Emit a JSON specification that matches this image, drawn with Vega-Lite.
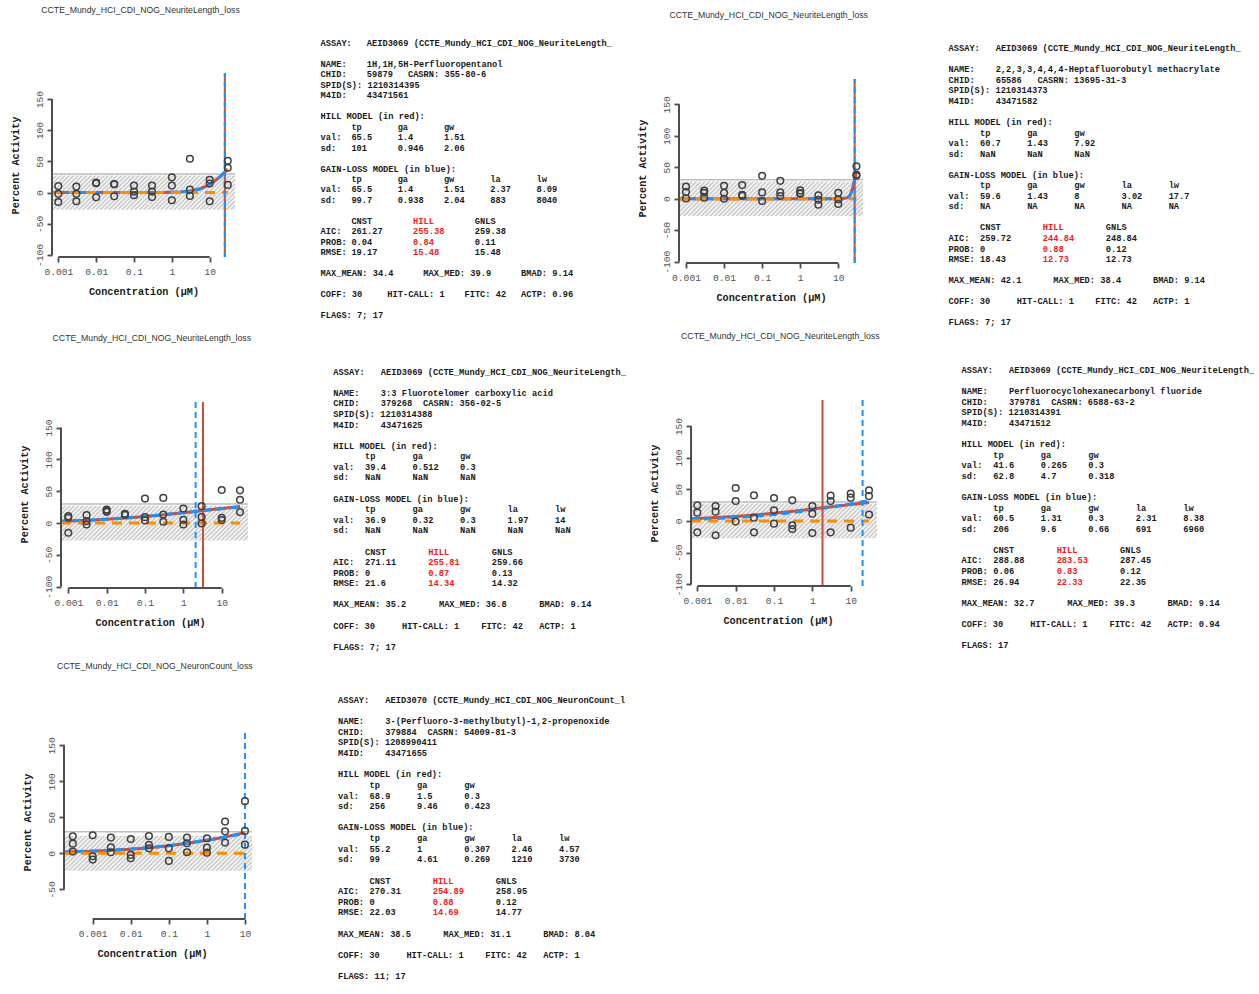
{
  "$schema": "https://vega.github.io/schema/vega-lite/v6.json",
  "background": "white",
  "padding": {"left": 10, "top": 5, "right": 0, "bottom": 0},
  "columns": 2,
  "align": "each",
  "bounds": "flush",
  "spacing": {"row": 137, "column": 427},
  "config": {
    "view": {"stroke": null},
    "title": {"font": "Liberation Sans", "fontSize": 8.7, "fontWeight": "normal", "color": "#333333", "anchor": "middle", "baseline": "bottom", "frame": "group"},
    "axis": {"domain": false, "grid": false, "tickSize": 5, "tickWidth": 1.8, "tickColor": "#4d4d4d", "labelFont": "Liberation Mono", "labelFontSize": 9.6, "labelColor": "#555555", "titleFont": "Liberation Mono", "titleFontSize": 10.2, "titleFontWeight": "bold", "titleColor": "#1a1a1a", "labelOverlap": false, "labelFlush": false},
    "axisX": {"labelPadding": 4, "titlePadding": 11},
    "axisY": {"labelAngle": 270, "labelAlign": "center", "labelBaseline": "bottom", "labelPadding": 3, "titlePadding": 14},
    "text": {"font": "Liberation Mono", "fontSize": 8.7, "fontWeight": "bold", "align": "left", "baseline": "middle"},
    "point": {"shape": "circle", "filled": false, "size": 44, "strokeWidth": 1.5, "color": "#404040", "opacity": 1}
  },
  "datasets": {
    "A_pts": [
      {"conc": 0.001, "resp": 10.6}, {"conc": 0.001, "resp": -2}, {"conc": 0.001, "resp": -15},
      {"conc": 0.003, "resp": 9.6}, {"conc": 0.003, "resp": -2}, {"conc": 0.003, "resp": -13.8},
      {"conc": 0.01, "resp": 16}, {"conc": 0.01, "resp": 15}, {"conc": 0.01, "resp": -7.4},
      {"conc": 0.03, "resp": 13.8}, {"conc": 0.03, "resp": 13.2}, {"conc": 0.03, "resp": -5.9},
      {"conc": 0.1, "resp": 11.2}, {"conc": 0.1, "resp": 1.6}, {"conc": 0.1, "resp": -4.3},
      {"conc": 0.3, "resp": 11.2}, {"conc": 0.3, "resp": 1.6}, {"conc": 0.3, "resp": -6.9},
      {"conc": 1, "resp": 24.5}, {"conc": 1, "resp": 11.2}, {"conc": 1, "resp": -12.2},
      {"conc": 3, "resp": 54.3}, {"conc": 3, "resp": 4.8}, {"conc": 3, "resp": -5.3},
      {"conc": 10, "resp": 20.7}, {"conc": 10, "resp": 14.4}, {"conc": 10, "resp": -13.8},
      {"conc": 30, "resp": 51}, {"conc": 30, "resp": 39.9}, {"conc": 30, "resp": 12.3}
    ],
    "A_fit": [
      {"model": "hill", "conc": 0.000682, "resp": 0}, {"model": "hill", "conc": 0.1, "resp": 0.02}, {"model": "hill", "conc": 0.3162, "resp": 0.09}, {"model": "hill", "conc": 1, "resp": 0.5}, {"model": "hill", "conc": 1.778, "resp": 1.18}, {"model": "hill", "conc": 3.162, "resp": 2.75}, {"model": "hill", "conc": 5.623, "resp": 6.19}, {"model": "hill", "conc": 10, "resp": 13.05}, {"model": "hill", "conc": 13.34, "resp": 18.19}, {"model": "hill", "conc": 17.78, "resp": 24.4}, {"model": "hill", "conc": 23.71, "resp": 31.33}, {"model": "hill", "conc": 30, "resp": 37.1},
      {"model": "gnls", "conc": 0.000682, "resp": 0}, {"model": "gnls", "conc": 0.1, "resp": 0.02}, {"model": "gnls", "conc": 0.3162, "resp": 0.09}, {"model": "gnls", "conc": 1, "resp": 0.5}, {"model": "gnls", "conc": 1.778, "resp": 1.18}, {"model": "gnls", "conc": 3.162, "resp": 2.75}, {"model": "gnls", "conc": 5.623, "resp": 6.19}, {"model": "gnls", "conc": 10, "resp": 13.05}, {"model": "gnls", "conc": 13.34, "resp": 18.19}, {"model": "gnls", "conc": 17.78, "resp": 24.4}, {"model": "gnls", "conc": 23.71, "resp": 31.33}, {"model": "gnls", "conc": 30, "resp": 37.1},
      {"model": "cnst", "conc": 0.000682, "resp": 0}, {"model": "cnst", "conc": 30, "resp": 0}
    ],
    "A_ac50": [{"model": "hill", "conc": 25.12}, {"model": "gnls", "conc": 25.12}],
    "A_lim": [{"lo": -27.42, "hi": 27.42, "coff": 30}],
    "A_txt": [
      {"line": 0, "col": 0, "text": "ASSAY:"}, {"line": 0, "col": 9, "text": "AEID3069 (CCTE_Mundy_HCI_CDI_NOG_NeuriteLength_"},
      {"line": 2, "col": 0, "text": "NAME:"}, {"line": 2, "col": 9, "text": "1H,1H,5H-Perfluoropentanol"},
      {"line": 3, "col": 0, "text": "CHID:"}, {"line": 3, "col": 9, "text": "59879"}, {"line": 3, "col": 17, "text": "CASRN: 355-80-6"},
      {"line": 4, "col": 0, "text": "SPID(S): 1210314395"},
      {"line": 5, "col": 0, "text": "M4ID:"}, {"line": 5, "col": 9, "text": "43471561"},
      {"line": 7, "col": 0, "text": "HILL MODEL (in red):"},
      {"line": 8, "col": 6, "text": "tp"}, {"line": 8, "col": 15, "text": "ga"}, {"line": 8, "col": 24, "text": "gw"},
      {"line": 9, "col": 0, "text": "val:"}, {"line": 9, "col": 6, "text": "65.5"}, {"line": 9, "col": 15, "text": "1.4"}, {"line": 9, "col": 24, "text": "1.51"},
      {"line": 10, "col": 0, "text": "sd:"}, {"line": 10, "col": 6, "text": "101"}, {"line": 10, "col": 15, "text": "0.946"}, {"line": 10, "col": 24, "text": "2.06"},
      {"line": 12, "col": 0, "text": "GAIN-LOSS MODEL (in blue):"},
      {"line": 13, "col": 6, "text": "tp"}, {"line": 13, "col": 15, "text": "ga"}, {"line": 13, "col": 24, "text": "gw"}, {"line": 13, "col": 33, "text": "la"}, {"line": 13, "col": 42, "text": "lw"},
      {"line": 14, "col": 0, "text": "val:"}, {"line": 14, "col": 6, "text": "65.5"}, {"line": 14, "col": 15, "text": "1.4"}, {"line": 14, "col": 24, "text": "1.51"}, {"line": 14, "col": 33, "text": "2.37"}, {"line": 14, "col": 42, "text": "8.09"},
      {"line": 15, "col": 0, "text": "sd:"}, {"line": 15, "col": 6, "text": "99.7"}, {"line": 15, "col": 15, "text": "0.938"}, {"line": 15, "col": 24, "text": "2.04"}, {"line": 15, "col": 33, "text": "883"}, {"line": 15, "col": 42, "text": "8040"},
      {"line": 17, "col": 6, "text": "CNST"}, {"line": 17, "col": 18, "text": "HILL", "hill": true}, {"line": 17, "col": 30, "text": "GNLS"},
      {"line": 18, "col": 0, "text": "AIC:"}, {"line": 18, "col": 6, "text": "261.27"}, {"line": 18, "col": 18, "text": "255.38", "hill": true}, {"line": 18, "col": 30, "text": "259.38"},
      {"line": 19, "col": 0, "text": "PROB:"}, {"line": 19, "col": 6, "text": "0.04"}, {"line": 19, "col": 18, "text": "0.84", "hill": true}, {"line": 19, "col": 30, "text": "0.11"},
      {"line": 20, "col": 0, "text": "RMSE:"}, {"line": 20, "col": 6, "text": "19.17"}, {"line": 20, "col": 18, "text": "15.48", "hill": true}, {"line": 20, "col": 30, "text": "15.48"},
      {"line": 22, "col": 0, "text": "MAX_MEAN: 34.4"}, {"line": 22, "col": 20, "text": "MAX_MED: 39.9"}, {"line": 22, "col": 39, "text": "BMAD: 9.14"},
      {"line": 24, "col": 0, "text": "COFF: 30"}, {"line": 24, "col": 13, "text": "HIT-CALL: 1"}, {"line": 24, "col": 28, "text": "FITC: 42"}, {"line": 24, "col": 39, "text": "ACTP: 0.96"},
      {"line": 26, "col": 0, "text": "FLAGS: 7; 17"}
    ],
    "B_pts": [
      {"conc": 0.001, "resp": 19.5}, {"conc": 0.001, "resp": 10.5}, {"conc": 0.001, "resp": 0.5},
      {"conc": 0.003, "resp": 13}, {"conc": 0.003, "resp": 9.5}, {"conc": 0.003, "resp": 1.6},
      {"conc": 0.01, "resp": 20.5}, {"conc": 0.01, "resp": 9.5}, {"conc": 0.01, "resp": 0},
      {"conc": 0.03, "resp": 21.6}, {"conc": 0.03, "resp": 6.3}, {"conc": 0.03, "resp": 4.7},
      {"conc": 0.1, "resp": 36.3}, {"conc": 0.1, "resp": 10}, {"conc": 0.1, "resp": -3.7},
      {"conc": 0.3, "resp": 28.4}, {"conc": 0.3, "resp": 10}, {"conc": 0.3, "resp": 4.2},
      {"conc": 1, "resp": 13.2}, {"conc": 1, "resp": 9}, {"conc": 1, "resp": 8},
      {"conc": 3, "resp": 5.3}, {"conc": 3, "resp": -1.6}, {"conc": 3, "resp": -9.5},
      {"conc": 10, "resp": 9.5}, {"conc": 10, "resp": -1}, {"conc": 10, "resp": -8.4},
      {"conc": 30, "resp": 51.5}, {"conc": 30, "resp": 38.4}, {"conc": 30, "resp": 36.4}
    ],
    "B_fit": [
      {"model": "hill", "conc": 0.000655, "resp": 0}, {"model": "hill", "conc": 10, "resp": 0.02}, {"model": "hill", "conc": 12.59, "resp": 0.15}, {"model": "hill", "conc": 15.85, "resp": 0.9}, {"model": "hill", "conc": 17.78, "resp": 2.2}, {"model": "hill", "conc": 19.95, "resp": 5.19}, {"model": "hill", "conc": 22.39, "resp": 11.45}, {"model": "hill", "conc": 25.12, "resp": 22.25}, {"model": "hill", "conc": 26.92, "resp": 30.35}, {"model": "hill", "conc": 28.18, "resp": 35.8}, {"model": "hill", "conc": 30, "resp": 42.6},
      {"model": "gnls", "conc": 0.000655, "resp": 0}, {"model": "gnls", "conc": 10, "resp": 0.02}, {"model": "gnls", "conc": 12.59, "resp": 0.14}, {"model": "gnls", "conc": 15.85, "resp": 0.85}, {"model": "gnls", "conc": 17.78, "resp": 2.09}, {"model": "gnls", "conc": 19.95, "resp": 4.98}, {"model": "gnls", "conc": 22.39, "resp": 11.1}, {"model": "gnls", "conc": 25.12, "resp": 21.77}, {"model": "gnls", "conc": 26.92, "resp": 29.8}, {"model": "gnls", "conc": 28.18, "resp": 35.2}, {"model": "gnls", "conc": 30, "resp": 41.9},
      {"model": "cnst", "conc": 0.000655, "resp": 0}, {"model": "cnst", "conc": 30, "resp": 0}
    ],
    "B_ac50": [{"model": "hill", "conc": 26.92}, {"model": "gnls", "conc": 26.92}],
    "B_lim": [{"lo": -27.42, "hi": 27.42, "coff": 30}],
    "B_txt": [
      {"line": 0, "col": 0, "text": "ASSAY:"}, {"line": 0, "col": 9, "text": "AEID3069 (CCTE_Mundy_HCI_CDI_NOG_NeuriteLength_"},
      {"line": 2, "col": 0, "text": "NAME:"}, {"line": 2, "col": 9, "text": "2,2,3,3,4,4,4-Heptafluorobutyl methacrylate"},
      {"line": 3, "col": 0, "text": "CHID:"}, {"line": 3, "col": 9, "text": "65586"}, {"line": 3, "col": 17, "text": "CASRN: 13695-31-3"},
      {"line": 4, "col": 0, "text": "SPID(S): 1210314373"},
      {"line": 5, "col": 0, "text": "M4ID:"}, {"line": 5, "col": 9, "text": "43471582"},
      {"line": 7, "col": 0, "text": "HILL MODEL (in red):"},
      {"line": 8, "col": 6, "text": "tp"}, {"line": 8, "col": 15, "text": "ga"}, {"line": 8, "col": 24, "text": "gw"},
      {"line": 9, "col": 0, "text": "val:"}, {"line": 9, "col": 6, "text": "60.7"}, {"line": 9, "col": 15, "text": "1.43"}, {"line": 9, "col": 24, "text": "7.92"},
      {"line": 10, "col": 0, "text": "sd:"}, {"line": 10, "col": 6, "text": "NaN"}, {"line": 10, "col": 15, "text": "NaN"}, {"line": 10, "col": 24, "text": "NaN"},
      {"line": 12, "col": 0, "text": "GAIN-LOSS MODEL (in blue):"},
      {"line": 13, "col": 6, "text": "tp"}, {"line": 13, "col": 15, "text": "ga"}, {"line": 13, "col": 24, "text": "gw"}, {"line": 13, "col": 33, "text": "la"}, {"line": 13, "col": 42, "text": "lw"},
      {"line": 14, "col": 0, "text": "val:"}, {"line": 14, "col": 6, "text": "59.6"}, {"line": 14, "col": 15, "text": "1.43"}, {"line": 14, "col": 24, "text": "8"}, {"line": 14, "col": 33, "text": "3.02"}, {"line": 14, "col": 42, "text": "17.7"},
      {"line": 15, "col": 0, "text": "sd:"}, {"line": 15, "col": 6, "text": "NA"}, {"line": 15, "col": 15, "text": "NA"}, {"line": 15, "col": 24, "text": "NA"}, {"line": 15, "col": 33, "text": "NA"}, {"line": 15, "col": 42, "text": "NA"},
      {"line": 17, "col": 6, "text": "CNST"}, {"line": 17, "col": 18, "text": "HILL", "hill": true}, {"line": 17, "col": 30, "text": "GNLS"},
      {"line": 18, "col": 0, "text": "AIC:"}, {"line": 18, "col": 6, "text": "259.72"}, {"line": 18, "col": 18, "text": "244.84", "hill": true}, {"line": 18, "col": 30, "text": "248.84"},
      {"line": 19, "col": 0, "text": "PROB:"}, {"line": 19, "col": 6, "text": "0"}, {"line": 19, "col": 18, "text": "0.88", "hill": true}, {"line": 19, "col": 30, "text": "0.12"},
      {"line": 20, "col": 0, "text": "RMSE:"}, {"line": 20, "col": 6, "text": "18.43"}, {"line": 20, "col": 18, "text": "12.73", "hill": true}, {"line": 20, "col": 30, "text": "12.73"},
      {"line": 22, "col": 0, "text": "MAX_MEAN: 42.1"}, {"line": 22, "col": 20, "text": "MAX_MED: 38.4"}, {"line": 22, "col": 39, "text": "BMAD: 9.14"},
      {"line": 24, "col": 0, "text": "COFF: 30"}, {"line": 24, "col": 13, "text": "HIT-CALL: 1"}, {"line": 24, "col": 28, "text": "FITC: 42"}, {"line": 24, "col": 39, "text": "ACTP: 1"},
      {"line": 26, "col": 0, "text": "FLAGS: 7; 17"}
    ],
    "C_pts": [
      {"conc": 0.001, "resp": 10.9}, {"conc": 0.001, "resp": 8.3}, {"conc": 0.001, "resp": -15.1},
      {"conc": 0.003, "resp": 12.5}, {"conc": 0.003, "resp": 3.1}, {"conc": 0.003, "resp": -2.1},
      {"conc": 0.01, "resp": 21.4}, {"conc": 0.01, "resp": 19.5}, {"conc": 0.01, "resp": 17.7},
      {"conc": 0.03, "resp": 14.6}, {"conc": 0.03, "resp": 14}, {"conc": 0.03, "resp": 13.2},
      {"conc": 0.1, "resp": 38.5}, {"conc": 0.1, "resp": 9.4}, {"conc": 0.1, "resp": 4.2},
      {"conc": 0.3, "resp": 39.6}, {"conc": 0.3, "resp": 13.5}, {"conc": 0.3, "resp": 2.1},
      {"conc": 1, "resp": 22.9}, {"conc": 1, "resp": 5.2}, {"conc": 1, "resp": -2.1},
      {"conc": 3, "resp": 26.6}, {"conc": 3, "resp": 9.4}, {"conc": 3, "resp": -0.5},
      {"conc": 10, "resp": 52.1}, {"conc": 10, "resp": 8.3}, {"conc": 10, "resp": 4.7},
      {"conc": 30, "resp": 51.5}, {"conc": 30, "resp": 36.8}, {"conc": 30, "resp": 17.3}
    ],
    "C_fit": [
      {"model": "hill", "conc": 0.000646, "resp": 2.83}, {"model": "hill", "conc": 0.001, "resp": 3.2}, {"model": "hill", "conc": 0.003162, "resp": 4.37}, {"model": "hill", "conc": 0.01, "resp": 5.91}, {"model": "hill", "conc": 0.03162, "resp": 7.86}, {"model": "hill", "conc": 0.1, "resp": 10.25}, {"model": "hill", "conc": 0.3162, "resp": 13.08}, {"model": "hill", "conc": 1, "resp": 16.25}, {"model": "hill", "conc": 3.162, "resp": 19.62}, {"model": "hill", "conc": 10, "resp": 22.99}, {"model": "hill", "conc": 30, "resp": 26.03},
      {"model": "gnls", "conc": 0.000646, "resp": 3.0}, {"model": "gnls", "conc": 0.001, "resp": 3.38}, {"model": "gnls", "conc": 0.003162, "resp": 4.6}, {"model": "gnls", "conc": 0.01, "resp": 6.19}, {"model": "gnls", "conc": 0.03162, "resp": 8.17}, {"model": "gnls", "conc": 0.1, "resp": 10.58}, {"model": "gnls", "conc": 0.3162, "resp": 13.36}, {"model": "gnls", "conc": 1, "resp": 16.42}, {"model": "gnls", "conc": 3.162, "resp": 19.6}, {"model": "gnls", "conc": 10, "resp": 22.71}, {"model": "gnls", "conc": 30, "resp": 25.45},
      {"model": "cnst", "conc": 0.000646, "resp": 0}, {"model": "cnst", "conc": 30, "resp": 0}
    ],
    "C_ac50": [{"model": "hill", "conc": 3.251}, {"model": "gnls", "conc": 2.089}],
    "C_lim": [{"lo": -27.42, "hi": 27.42, "coff": 30}],
    "C_txt": [
      {"line": 0, "col": 0, "text": "ASSAY:"}, {"line": 0, "col": 9, "text": "AEID3069 (CCTE_Mundy_HCI_CDI_NOG_NeuriteLength_"},
      {"line": 2, "col": 0, "text": "NAME:"}, {"line": 2, "col": 9, "text": "3:3 Fluorotelomer carboxylic acid"},
      {"line": 3, "col": 0, "text": "CHID:"}, {"line": 3, "col": 9, "text": "379268"}, {"line": 3, "col": 17, "text": "CASRN: 356-02-5"},
      {"line": 4, "col": 0, "text": "SPID(S): 1210314388"},
      {"line": 5, "col": 0, "text": "M4ID:"}, {"line": 5, "col": 9, "text": "43471625"},
      {"line": 7, "col": 0, "text": "HILL MODEL (in red):"},
      {"line": 8, "col": 6, "text": "tp"}, {"line": 8, "col": 15, "text": "ga"}, {"line": 8, "col": 24, "text": "gw"},
      {"line": 9, "col": 0, "text": "val:"}, {"line": 9, "col": 6, "text": "39.4"}, {"line": 9, "col": 15, "text": "0.512"}, {"line": 9, "col": 24, "text": "0.3"},
      {"line": 10, "col": 0, "text": "sd:"}, {"line": 10, "col": 6, "text": "NaN"}, {"line": 10, "col": 15, "text": "NaN"}, {"line": 10, "col": 24, "text": "NaN"},
      {"line": 12, "col": 0, "text": "GAIN-LOSS MODEL (in blue):"},
      {"line": 13, "col": 6, "text": "tp"}, {"line": 13, "col": 15, "text": "ga"}, {"line": 13, "col": 24, "text": "gw"}, {"line": 13, "col": 33, "text": "la"}, {"line": 13, "col": 42, "text": "lw"},
      {"line": 14, "col": 0, "text": "val:"}, {"line": 14, "col": 6, "text": "36.9"}, {"line": 14, "col": 15, "text": "0.32"}, {"line": 14, "col": 24, "text": "0.3"}, {"line": 14, "col": 33, "text": "1.97"}, {"line": 14, "col": 42, "text": "14"},
      {"line": 15, "col": 0, "text": "sd:"}, {"line": 15, "col": 6, "text": "NaN"}, {"line": 15, "col": 15, "text": "NaN"}, {"line": 15, "col": 24, "text": "NaN"}, {"line": 15, "col": 33, "text": "NaN"}, {"line": 15, "col": 42, "text": "NaN"},
      {"line": 17, "col": 6, "text": "CNST"}, {"line": 17, "col": 18, "text": "HILL", "hill": true}, {"line": 17, "col": 30, "text": "GNLS"},
      {"line": 18, "col": 0, "text": "AIC:"}, {"line": 18, "col": 6, "text": "271.11"}, {"line": 18, "col": 18, "text": "255.81", "hill": true}, {"line": 18, "col": 30, "text": "259.66"},
      {"line": 19, "col": 0, "text": "PROB:"}, {"line": 19, "col": 6, "text": "0"}, {"line": 19, "col": 18, "text": "0.87", "hill": true}, {"line": 19, "col": 30, "text": "0.13"},
      {"line": 20, "col": 0, "text": "RMSE:"}, {"line": 20, "col": 6, "text": "21.6"}, {"line": 20, "col": 18, "text": "14.34", "hill": true}, {"line": 20, "col": 30, "text": "14.32"},
      {"line": 22, "col": 0, "text": "MAX_MEAN: 35.2"}, {"line": 22, "col": 20, "text": "MAX_MED: 36.8"}, {"line": 22, "col": 39, "text": "BMAD: 9.14"},
      {"line": 24, "col": 0, "text": "COFF: 30"}, {"line": 24, "col": 13, "text": "HIT-CALL: 1"}, {"line": 24, "col": 28, "text": "FITC: 42"}, {"line": 24, "col": 39, "text": "ACTP: 1"},
      {"line": 26, "col": 0, "text": "FLAGS: 7; 17"}
    ],
    "D_pts": [
      {"conc": 0.001, "resp": 24.7}, {"conc": 0.001, "resp": 13.2}, {"conc": 0.001, "resp": -17.9},
      {"conc": 0.003, "resp": 23.7}, {"conc": 0.003, "resp": 14.7}, {"conc": 0.003, "resp": -22.6},
      {"conc": 0.01, "resp": 52.1}, {"conc": 0.01, "resp": 31.6}, {"conc": 0.01, "resp": -1},
      {"conc": 0.03, "resp": 40.5}, {"conc": 0.03, "resp": 5.3}, {"conc": 0.03, "resp": -17.9},
      {"conc": 0.1, "resp": 36.3}, {"conc": 0.1, "resp": 16.8}, {"conc": 0.1, "resp": -4.2},
      {"conc": 0.3, "resp": 32.6}, {"conc": 0.3, "resp": -6.8}, {"conc": 0.3, "resp": -12.6},
      {"conc": 1, "resp": 23.7}, {"conc": 1, "resp": 11.6}, {"conc": 1, "resp": -18.9},
      {"conc": 3, "resp": 40}, {"conc": 3, "resp": 31.6}, {"conc": 3, "resp": -17.9},
      {"conc": 10, "resp": 43.2}, {"conc": 10, "resp": 36.8}, {"conc": 10, "resp": -10.5},
      {"conc": 30, "resp": 48.5}, {"conc": 30, "resp": 39.3}, {"conc": 30, "resp": 10.3}
    ],
    "D_fit": [
      {"model": "hill", "conc": 0.000686, "resp": 3.56}, {"model": "hill", "conc": 0.001, "resp": 3.95}, {"model": "hill", "conc": 0.003162, "resp": 5.37}, {"model": "hill", "conc": 0.01, "resp": 7.2}, {"model": "hill", "conc": 0.03162, "resp": 9.49}, {"model": "hill", "conc": 0.1, "resp": 12.25}, {"model": "hill", "conc": 0.3162, "resp": 15.43}, {"model": "hill", "conc": 1, "resp": 18.9}, {"model": "hill", "conc": 3.162, "resp": 22.49}, {"model": "hill", "conc": 10, "resp": 25.97}, {"model": "hill", "conc": 30, "resp": 29.03},
      {"model": "gnls", "conc": 0.000686, "resp": 2.63}, {"model": "gnls", "conc": 0.001, "resp": 2.93}, {"model": "gnls", "conc": 0.003162, "resp": 4.06}, {"model": "gnls", "conc": 0.01, "resp": 5.58}, {"model": "gnls", "conc": 0.03162, "resp": 7.59}, {"model": "gnls", "conc": 0.1, "resp": 10.2}, {"model": "gnls", "conc": 0.3162, "resp": 13.47}, {"model": "gnls", "conc": 1, "resp": 17.42}, {"model": "gnls", "conc": 3.162, "resp": 22.0}, {"model": "gnls", "conc": 10, "resp": 27.02}, {"model": "gnls", "conc": 30, "resp": 32.06},
      {"model": "cnst", "conc": 0.000686, "resp": 0}, {"model": "cnst", "conc": 30, "resp": 0}
    ],
    "D_ac50": [{"model": "hill", "conc": 1.841}, {"model": "gnls", "conc": 20.42}],
    "D_lim": [{"lo": -27.42, "hi": 27.42, "coff": 30}],
    "D_txt": [
      {"line": 0, "col": 0, "text": "ASSAY:"}, {"line": 0, "col": 9, "text": "AEID3069 (CCTE_Mundy_HCI_CDI_NOG_NeuriteLength_"},
      {"line": 2, "col": 0, "text": "NAME:"}, {"line": 2, "col": 9, "text": "Perfluorocyclohexanecarbonyl fluoride"},
      {"line": 3, "col": 0, "text": "CHID:"}, {"line": 3, "col": 9, "text": "379781"}, {"line": 3, "col": 17, "text": "CASRN: 6588-63-2"},
      {"line": 4, "col": 0, "text": "SPID(S): 1210314391"},
      {"line": 5, "col": 0, "text": "M4ID:"}, {"line": 5, "col": 9, "text": "43471512"},
      {"line": 7, "col": 0, "text": "HILL MODEL (in red):"},
      {"line": 8, "col": 6, "text": "tp"}, {"line": 8, "col": 15, "text": "ga"}, {"line": 8, "col": 24, "text": "gw"},
      {"line": 9, "col": 0, "text": "val:"}, {"line": 9, "col": 6, "text": "41.6"}, {"line": 9, "col": 15, "text": "0.265"}, {"line": 9, "col": 24, "text": "0.3"},
      {"line": 10, "col": 0, "text": "sd:"}, {"line": 10, "col": 6, "text": "62.8"}, {"line": 10, "col": 15, "text": "4.7"}, {"line": 10, "col": 24, "text": "0.318"},
      {"line": 12, "col": 0, "text": "GAIN-LOSS MODEL (in blue):"},
      {"line": 13, "col": 6, "text": "tp"}, {"line": 13, "col": 15, "text": "ga"}, {"line": 13, "col": 24, "text": "gw"}, {"line": 13, "col": 33, "text": "la"}, {"line": 13, "col": 42, "text": "lw"},
      {"line": 14, "col": 0, "text": "val:"}, {"line": 14, "col": 6, "text": "60.5"}, {"line": 14, "col": 15, "text": "1.31"}, {"line": 14, "col": 24, "text": "0.3"}, {"line": 14, "col": 33, "text": "2.31"}, {"line": 14, "col": 42, "text": "8.38"},
      {"line": 15, "col": 0, "text": "sd:"}, {"line": 15, "col": 6, "text": "206"}, {"line": 15, "col": 15, "text": "9.6"}, {"line": 15, "col": 24, "text": "0.66"}, {"line": 15, "col": 33, "text": "691"}, {"line": 15, "col": 42, "text": "6960"},
      {"line": 17, "col": 6, "text": "CNST"}, {"line": 17, "col": 18, "text": "HILL", "hill": true}, {"line": 17, "col": 30, "text": "GNLS"},
      {"line": 18, "col": 0, "text": "AIC:"}, {"line": 18, "col": 6, "text": "288.88"}, {"line": 18, "col": 18, "text": "283.53", "hill": true}, {"line": 18, "col": 30, "text": "287.45"},
      {"line": 19, "col": 0, "text": "PROB:"}, {"line": 19, "col": 6, "text": "0.06"}, {"line": 19, "col": 18, "text": "0.83", "hill": true}, {"line": 19, "col": 30, "text": "0.12"},
      {"line": 20, "col": 0, "text": "RMSE:"}, {"line": 20, "col": 6, "text": "26.94"}, {"line": 20, "col": 18, "text": "22.33", "hill": true}, {"line": 20, "col": 30, "text": "22.35"},
      {"line": 22, "col": 0, "text": "MAX_MEAN: 32.7"}, {"line": 22, "col": 20, "text": "MAX_MED: 39.3"}, {"line": 22, "col": 39, "text": "BMAD: 9.14"},
      {"line": 24, "col": 0, "text": "COFF: 30"}, {"line": 24, "col": 13, "text": "HIT-CALL: 1"}, {"line": 24, "col": 28, "text": "FITC: 42"}, {"line": 24, "col": 39, "text": "ACTP: 0.94"},
      {"line": 26, "col": 0, "text": "FLAGS: 17"}
    ],
    "E_pts": [
      {"conc": 0.0003, "resp": 23.6}, {"conc": 0.0003, "resp": 13.4}, {"conc": 0.0003, "resp": 2.3},
      {"conc": 0.001, "resp": 25}, {"conc": 0.001, "resp": -4.2}, {"conc": 0.001, "resp": -8.8},
      {"conc": 0.003, "resp": 21.8}, {"conc": 0.003, "resp": 8.3}, {"conc": 0.003, "resp": 1.4},
      {"conc": 0.01, "resp": 19.9}, {"conc": 0.01, "resp": -2.3}, {"conc": 0.01, "resp": -6.9},
      {"conc": 0.03, "resp": 24}, {"conc": 0.03, "resp": 11.6}, {"conc": 0.03, "resp": 6.9},
      {"conc": 0.1, "resp": 22.7}, {"conc": 0.1, "resp": 6.9}, {"conc": 0.1, "resp": -10.6},
      {"conc": 0.3, "resp": 21.8}, {"conc": 0.3, "resp": 13.9}, {"conc": 0.3, "resp": 1.4},
      {"conc": 1, "resp": 20.8}, {"conc": 1, "resp": 7.9}, {"conc": 1, "resp": 0.9},
      {"conc": 3, "resp": 44}, {"conc": 3, "resp": 30.5}, {"conc": 3, "resp": 14.8},
      {"conc": 10, "resp": 72.4}, {"conc": 10, "resp": 31.1}, {"conc": 10, "resp": 12}
    ],
    "E_fit": [
      {"model": "hill", "conc": 0.000176, "resp": 1.78}, {"model": "hill", "conc": 0.000316, "resp": 2.11}, {"model": "hill", "conc": 0.001, "resp": 2.95}, {"model": "hill", "conc": 0.003162, "resp": 4.09}, {"model": "hill", "conc": 0.01, "resp": 5.64}, {"model": "hill", "conc": 0.03162, "resp": 7.7}, {"model": "hill", "conc": 0.1, "resp": 10.4}, {"model": "hill", "conc": 0.3162, "resp": 13.83}, {"model": "hill", "conc": 1, "resp": 18.05}, {"model": "hill", "conc": 3.162, "resp": 23.0}, {"model": "hill", "conc": 10, "resp": 28.55},
      {"model": "gnls", "conc": 0.000176, "resp": 1.85}, {"model": "gnls", "conc": 0.000316, "resp": 2.2}, {"model": "gnls", "conc": 0.001, "resp": 3.08}, {"model": "gnls", "conc": 0.003162, "resp": 4.29}, {"model": "gnls", "conc": 0.01, "resp": 5.91}, {"model": "gnls", "conc": 0.03162, "resp": 8.05}, {"model": "gnls", "conc": 0.1, "resp": 10.8}, {"model": "gnls", "conc": 0.3162, "resp": 14.2}, {"model": "gnls", "conc": 1, "resp": 18.23}, {"model": "gnls", "conc": 3.162, "resp": 22.77}, {"model": "gnls", "conc": 10, "resp": 27.6},
      {"model": "cnst", "conc": 0.000176, "resp": 0}, {"model": "cnst", "conc": 10, "resp": 0}
    ],
    "E_ac50": [{"model": "hill", "conc": 31.62}, {"model": "gnls", "conc": 10}],
    "E_lim": [{"lo": -24.12, "hi": 24.12, "coff": 30}],
    "E_txt": [
      {"line": 0, "col": 0, "text": "ASSAY:"}, {"line": 0, "col": 9, "text": "AEID3070 (CCTE_Mundy_HCI_CDI_NOG_NeuronCount_l"},
      {"line": 2, "col": 0, "text": "NAME:"}, {"line": 2, "col": 9, "text": "3-(Perfluoro-3-methylbutyl)-1,2-propenoxide"},
      {"line": 3, "col": 0, "text": "CHID:"}, {"line": 3, "col": 9, "text": "379884"}, {"line": 3, "col": 17, "text": "CASRN: 54009-81-3"},
      {"line": 4, "col": 0, "text": "SPID(S): 1208990411"},
      {"line": 5, "col": 0, "text": "M4ID:"}, {"line": 5, "col": 9, "text": "43471655"},
      {"line": 7, "col": 0, "text": "HILL MODEL (in red):"},
      {"line": 8, "col": 6, "text": "tp"}, {"line": 8, "col": 15, "text": "ga"}, {"line": 8, "col": 24, "text": "gw"},
      {"line": 9, "col": 0, "text": "val:"}, {"line": 9, "col": 6, "text": "68.9"}, {"line": 9, "col": 15, "text": "1.5"}, {"line": 9, "col": 24, "text": "0.3"},
      {"line": 10, "col": 0, "text": "sd:"}, {"line": 10, "col": 6, "text": "256"}, {"line": 10, "col": 15, "text": "9.46"}, {"line": 10, "col": 24, "text": "0.423"},
      {"line": 12, "col": 0, "text": "GAIN-LOSS MODEL (in blue):"},
      {"line": 13, "col": 6, "text": "tp"}, {"line": 13, "col": 15, "text": "ga"}, {"line": 13, "col": 24, "text": "gw"}, {"line": 13, "col": 33, "text": "la"}, {"line": 13, "col": 42, "text": "lw"},
      {"line": 14, "col": 0, "text": "val:"}, {"line": 14, "col": 6, "text": "55.2"}, {"line": 14, "col": 15, "text": "1"}, {"line": 14, "col": 24, "text": "0.307"}, {"line": 14, "col": 33, "text": "2.46"}, {"line": 14, "col": 42, "text": "4.57"},
      {"line": 15, "col": 0, "text": "sd:"}, {"line": 15, "col": 6, "text": "99"}, {"line": 15, "col": 15, "text": "4.61"}, {"line": 15, "col": 24, "text": "0.269"}, {"line": 15, "col": 33, "text": "1210"}, {"line": 15, "col": 42, "text": "3730"},
      {"line": 17, "col": 6, "text": "CNST"}, {"line": 17, "col": 18, "text": "HILL", "hill": true}, {"line": 17, "col": 30, "text": "GNLS"},
      {"line": 18, "col": 0, "text": "AIC:"}, {"line": 18, "col": 6, "text": "270.31"}, {"line": 18, "col": 18, "text": "254.89", "hill": true}, {"line": 18, "col": 30, "text": "258.95"},
      {"line": 19, "col": 0, "text": "PROB:"}, {"line": 19, "col": 6, "text": "0"}, {"line": 19, "col": 18, "text": "0.88", "hill": true}, {"line": 19, "col": 30, "text": "0.12"},
      {"line": 20, "col": 0, "text": "RMSE:"}, {"line": 20, "col": 6, "text": "22.03"}, {"line": 20, "col": 18, "text": "14.69", "hill": true}, {"line": 20, "col": 30, "text": "14.77"},
      {"line": 22, "col": 0, "text": "MAX_MEAN: 38.5"}, {"line": 22, "col": 20, "text": "MAX_MED: 31.1"}, {"line": 22, "col": 39, "text": "BMAD: 8.04"},
      {"line": 24, "col": 0, "text": "COFF: 30"}, {"line": 24, "col": 13, "text": "HIT-CALL: 1"}, {"line": 24, "col": 28, "text": "FITC: 42"}, {"line": 24, "col": 39, "text": "ACTP: 1"},
      {"line": 26, "col": 0, "text": "FLAGS: 11; 17"}
    ]
  },
  "concat": [
    {
      "width": 183, "height": 184,
      "title": {"text": "CCTE_Mundy_HCI_CDI_NOG_NeuriteLength_loss", "offset": 24.8, "dx": -3},
      "resolve": {"scale": {"x": "independent", "y": "independent"}},
      "layer": [
        {"layer": [
          {"data": {"name": "A_lim"},
           "mark": {"type": "rect", "fill": {"gradient": "linear", "x1": 0, "y1": 0, "x2": 1.147, "y2": 0.2145, "stops": [{"offset": 0, "color": "#c4c4c4"}, {"offset": 0.01, "color": "#fff"}, {"offset": 0.02, "color": "#c4c4c4"}, {"offset": 0.03, "color": "#fff"}, {"offset": 0.04, "color": "#c4c4c4"}, {"offset": 0.05, "color": "#fff"}, {"offset": 0.06, "color": "#c4c4c4"}, {"offset": 0.07, "color": "#fff"}, {"offset": 0.08, "color": "#c4c4c4"}, {"offset": 0.09, "color": "#fff"}, {"offset": 0.1, "color": "#c4c4c4"}, {"offset": 0.11, "color": "#fff"}, {"offset": 0.12, "color": "#c4c4c4"}, {"offset": 0.13, "color": "#fff"}, {"offset": 0.14, "color": "#c4c4c4"}, {"offset": 0.15, "color": "#fff"}, {"offset": 0.16, "color": "#c4c4c4"}, {"offset": 0.17, "color": "#fff"}, {"offset": 0.18, "color": "#c4c4c4"}, {"offset": 0.19, "color": "#fff"}, {"offset": 0.2, "color": "#c4c4c4"}, {"offset": 0.21, "color": "#fff"}, {"offset": 0.22, "color": "#c4c4c4"}, {"offset": 0.23, "color": "#fff"}, {"offset": 0.24, "color": "#c4c4c4"}, {"offset": 0.25, "color": "#fff"}, {"offset": 0.26, "color": "#c4c4c4"}, {"offset": 0.27, "color": "#fff"}, {"offset": 0.28, "color": "#c4c4c4"}, {"offset": 0.29, "color": "#fff"}, {"offset": 0.3, "color": "#c4c4c4"}, {"offset": 0.31, "color": "#fff"}, {"offset": 0.32, "color": "#c4c4c4"}, {"offset": 0.33, "color": "#fff"}, {"offset": 0.34, "color": "#c4c4c4"}, {"offset": 0.35, "color": "#fff"}, {"offset": 0.36, "color": "#c4c4c4"}, {"offset": 0.37, "color": "#fff"}, {"offset": 0.38, "color": "#c4c4c4"}, {"offset": 0.39, "color": "#fff"}, {"offset": 0.4, "color": "#c4c4c4"}, {"offset": 0.41, "color": "#fff"}, {"offset": 0.42, "color": "#c4c4c4"}, {"offset": 0.43, "color": "#fff"}, {"offset": 0.44, "color": "#c4c4c4"}, {"offset": 0.45, "color": "#fff"}, {"offset": 0.46, "color": "#c4c4c4"}, {"offset": 0.47, "color": "#fff"}, {"offset": 0.48, "color": "#c4c4c4"}, {"offset": 0.49, "color": "#fff"}, {"offset": 0.5, "color": "#c4c4c4"}, {"offset": 0.51, "color": "#fff"}, {"offset": 0.52, "color": "#c4c4c4"}, {"offset": 0.53, "color": "#fff"}, {"offset": 0.54, "color": "#c4c4c4"}, {"offset": 0.55, "color": "#fff"}, {"offset": 0.56, "color": "#c4c4c4"}, {"offset": 0.57, "color": "#fff"}, {"offset": 0.58, "color": "#c4c4c4"}, {"offset": 0.59, "color": "#fff"}, {"offset": 0.6, "color": "#c4c4c4"}, {"offset": 0.61, "color": "#fff"}, {"offset": 0.62, "color": "#c4c4c4"}, {"offset": 0.63, "color": "#fff"}, {"offset": 0.64, "color": "#c4c4c4"}, {"offset": 0.65, "color": "#fff"}, {"offset": 0.66, "color": "#c4c4c4"}, {"offset": 0.67, "color": "#fff"}, {"offset": 0.68, "color": "#c4c4c4"}, {"offset": 0.69, "color": "#fff"}, {"offset": 0.7, "color": "#c4c4c4"}, {"offset": 0.71, "color": "#fff"}, {"offset": 0.72, "color": "#c4c4c4"}, {"offset": 0.73, "color": "#fff"}, {"offset": 0.74, "color": "#c4c4c4"}, {"offset": 0.75, "color": "#fff"}, {"offset": 0.76, "color": "#c4c4c4"}, {"offset": 0.77, "color": "#fff"}, {"offset": 0.78, "color": "#c4c4c4"}, {"offset": 0.79, "color": "#fff"}, {"offset": 0.8, "color": "#c4c4c4"}, {"offset": 0.81, "color": "#fff"}, {"offset": 0.82, "color": "#c4c4c4"}, {"offset": 0.83, "color": "#fff"}, {"offset": 0.84, "color": "#c4c4c4"}, {"offset": 0.85, "color": "#fff"}, {"offset": 0.86, "color": "#c4c4c4"}, {"offset": 0.87, "color": "#fff"}, {"offset": 0.88, "color": "#c4c4c4"}, {"offset": 0.89, "color": "#fff"}, {"offset": 0.9, "color": "#c4c4c4"}, {"offset": 0.91, "color": "#fff"}, {"offset": 0.92, "color": "#c4c4c4"}, {"offset": 0.93, "color": "#fff"}, {"offset": 0.94, "color": "#c4c4c4"}, {"offset": 0.95, "color": "#fff"}, {"offset": 0.96, "color": "#c4c4c4"}, {"offset": 0.97, "color": "#fff"}, {"offset": 0.98, "color": "#c4c4c4"}, {"offset": 0.99, "color": "#fff"}, {"offset": 1, "color": "#c4c4c4"}]}},
           "encoding": {
             "x": {"datum": 0.000682, "type": "quantitative", "scale": {"type": "log", "domain": [0.000682, 46.6], "nice": false}, "axis": {"values": [0.001, 0.01, 0.1, 1, 10], "tickCount": 12, "title": "Concentration (µM)", "labelExpr": "toString(datum.value)", "labelOverlap": false}},
             "x2": {"datum": 46.6},
             "y": {"field": "lo", "type": "quantitative", "scale": {"domain": [-103.2, 191.7], "nice": false, "zero": false}, "axis": {"values": [-100, -50, 0, 50, 100, 150], "tickCount": 12, "title": "Percent Activity", "labelExpr": "toString(datum.value)", "labelOverlap": false, "offset": 0}},
             "y2": {"field": "hi"}}},
          {"data": {"name": "A_lim"}, "mark": {"type": "rule", "color": "#bdbdbd", "strokeWidth": 1.5},
           "encoding": {"x": {"datum": 0.000682}, "x2": {"datum": 46.6}, "y": {"field": "coff", "type": "quantitative"}}},
          {"data": {"name": "A_fit"}, "transform": [{"filter": "datum.model == 'hill'"}], "mark": {"type": "line", "color": "#CD4F39", "strokeWidth": 3, "interpolate": "monotone"},
           "encoding": {"x": {"field": "conc", "type": "quantitative"}, "y": {"field": "resp", "type": "quantitative"}}},
          {"data": {"name": "A_fit"}, "transform": [{"filter": "datum.model == 'gnls'"}], "mark": {"type": "line", "color": "#1E90FF", "strokeWidth": 3, "strokeDash": [8, 5], "interpolate": "monotone"},
           "encoding": {"x": {"field": "conc", "type": "quantitative"}, "y": {"field": "resp", "type": "quantitative"}}},
          {"data": {"name": "A_fit"}, "transform": [{"filter": "datum.model == 'cnst'"}], "mark": {"type": "line", "color": "#FF8C00", "strokeWidth": 3, "strokeDash": [10, 7]},
           "encoding": {"x": {"field": "conc", "type": "quantitative"}, "y": {"field": "resp", "type": "quantitative"}}},
          {"data": {"name": "A_ac50"}, "transform": [{"filter": "datum.model == 'hill'"}], "mark": {"type": "rule", "color": "#CD4F39", "strokeWidth": 2, "clip": true},
           "encoding": {"x": {"field": "conc", "type": "quantitative"}, "y": {"datum": -103.2}, "y2": {"datum": 191.7}}},
          {"data": {"name": "A_ac50"}, "transform": [{"filter": "datum.model == 'gnls'"}], "mark": {"type": "rule", "color": "#1E90FF", "strokeWidth": 2, "strokeDash": [6, 4], "clip": true},
           "encoding": {"x": {"field": "conc", "type": "quantitative"}, "y": {"datum": -103.2}, "y2": {"datum": 191.7}}},
          {"data": {"values": [{}]}, "mark": {"type": "rule", "color": "#4d4d4d", "strokeWidth": 2},
           "encoding": {"x": {"datum": 0.000682}, "y": {"datum": -100}, "y2": {"datum": 150}}},
          {"data": {"values": [{}]}, "mark": {"type": "rule", "color": "#4d4d4d", "strokeWidth": 2},
           "encoding": {"x": {"datum": 0.001}, "x2": {"datum": 10}, "y": {"datum": -103.2}}},
          {"data": {"name": "A_pts"}, "mark": {"type": "point"},
           "encoding": {"x": {"field": "conc", "type": "quantitative"}, "y": {"field": "resp", "type": "quantitative"}}}
        ]},
        {"data": {"name": "A_txt"}, "mark": {"type": "text"},
         "encoding": {
           "x": {"field": "col", "type": "quantitative", "scale": {"domain": [-52.24, -16.64], "nice": false, "zero": false}, "axis": null},
           "y": {"field": "line", "type": "quantitative", "scale": {"domain": [2.868, 20.459], "reverse": true, "nice": false, "zero": false}, "axis": null},
           "text": {"field": "text"},
           "color": {"condition": {"test": "datum.hill", "value": "#f02020"}, "value": "#1a1a1a"}}}
      ]
    },
    {
      "width": 184, "height": 190,
      "title": {"text": "CCTE_Mundy_HCI_CDI_NOG_NeuriteLength_loss", "offset": 24.2, "dx": -2.3},
      "resolve": {"scale": {"x": "independent", "y": "independent"}},
      "layer": [
        {"layer": [
          {"data": {"name": "B_lim"},
           "mark": {"type": "rect", "fill": {"gradient": "linear", "x1": 0, "y1": 0, "x2": 1.147, "y2": 0.2145, "stops": [{"offset": 0, "color": "#c4c4c4"}, {"offset": 0.01, "color": "#fff"}, {"offset": 0.02, "color": "#c4c4c4"}, {"offset": 0.03, "color": "#fff"}, {"offset": 0.04, "color": "#c4c4c4"}, {"offset": 0.05, "color": "#fff"}, {"offset": 0.06, "color": "#c4c4c4"}, {"offset": 0.07, "color": "#fff"}, {"offset": 0.08, "color": "#c4c4c4"}, {"offset": 0.09, "color": "#fff"}, {"offset": 0.1, "color": "#c4c4c4"}, {"offset": 0.11, "color": "#fff"}, {"offset": 0.12, "color": "#c4c4c4"}, {"offset": 0.13, "color": "#fff"}, {"offset": 0.14, "color": "#c4c4c4"}, {"offset": 0.15, "color": "#fff"}, {"offset": 0.16, "color": "#c4c4c4"}, {"offset": 0.17, "color": "#fff"}, {"offset": 0.18, "color": "#c4c4c4"}, {"offset": 0.19, "color": "#fff"}, {"offset": 0.2, "color": "#c4c4c4"}, {"offset": 0.21, "color": "#fff"}, {"offset": 0.22, "color": "#c4c4c4"}, {"offset": 0.23, "color": "#fff"}, {"offset": 0.24, "color": "#c4c4c4"}, {"offset": 0.25, "color": "#fff"}, {"offset": 0.26, "color": "#c4c4c4"}, {"offset": 0.27, "color": "#fff"}, {"offset": 0.28, "color": "#c4c4c4"}, {"offset": 0.29, "color": "#fff"}, {"offset": 0.3, "color": "#c4c4c4"}, {"offset": 0.31, "color": "#fff"}, {"offset": 0.32, "color": "#c4c4c4"}, {"offset": 0.33, "color": "#fff"}, {"offset": 0.34, "color": "#c4c4c4"}, {"offset": 0.35, "color": "#fff"}, {"offset": 0.36, "color": "#c4c4c4"}, {"offset": 0.37, "color": "#fff"}, {"offset": 0.38, "color": "#c4c4c4"}, {"offset": 0.39, "color": "#fff"}, {"offset": 0.4, "color": "#c4c4c4"}, {"offset": 0.41, "color": "#fff"}, {"offset": 0.42, "color": "#c4c4c4"}, {"offset": 0.43, "color": "#fff"}, {"offset": 0.44, "color": "#c4c4c4"}, {"offset": 0.45, "color": "#fff"}, {"offset": 0.46, "color": "#c4c4c4"}, {"offset": 0.47, "color": "#fff"}, {"offset": 0.48, "color": "#c4c4c4"}, {"offset": 0.49, "color": "#fff"}, {"offset": 0.5, "color": "#c4c4c4"}, {"offset": 0.51, "color": "#fff"}, {"offset": 0.52, "color": "#c4c4c4"}, {"offset": 0.53, "color": "#fff"}, {"offset": 0.54, "color": "#c4c4c4"}, {"offset": 0.55, "color": "#fff"}, {"offset": 0.56, "color": "#c4c4c4"}, {"offset": 0.57, "color": "#fff"}, {"offset": 0.58, "color": "#c4c4c4"}, {"offset": 0.59, "color": "#fff"}, {"offset": 0.6, "color": "#c4c4c4"}, {"offset": 0.61, "color": "#fff"}, {"offset": 0.62, "color": "#c4c4c4"}, {"offset": 0.63, "color": "#fff"}, {"offset": 0.64, "color": "#c4c4c4"}, {"offset": 0.65, "color": "#fff"}, {"offset": 0.66, "color": "#c4c4c4"}, {"offset": 0.67, "color": "#fff"}, {"offset": 0.68, "color": "#c4c4c4"}, {"offset": 0.69, "color": "#fff"}, {"offset": 0.7, "color": "#c4c4c4"}, {"offset": 0.71, "color": "#fff"}, {"offset": 0.72, "color": "#c4c4c4"}, {"offset": 0.73, "color": "#fff"}, {"offset": 0.74, "color": "#c4c4c4"}, {"offset": 0.75, "color": "#fff"}, {"offset": 0.76, "color": "#c4c4c4"}, {"offset": 0.77, "color": "#fff"}, {"offset": 0.78, "color": "#c4c4c4"}, {"offset": 0.79, "color": "#fff"}, {"offset": 0.8, "color": "#c4c4c4"}, {"offset": 0.81, "color": "#fff"}, {"offset": 0.82, "color": "#c4c4c4"}, {"offset": 0.83, "color": "#fff"}, {"offset": 0.84, "color": "#c4c4c4"}, {"offset": 0.85, "color": "#fff"}, {"offset": 0.86, "color": "#c4c4c4"}, {"offset": 0.87, "color": "#fff"}, {"offset": 0.88, "color": "#c4c4c4"}, {"offset": 0.89, "color": "#fff"}, {"offset": 0.9, "color": "#c4c4c4"}, {"offset": 0.91, "color": "#fff"}, {"offset": 0.92, "color": "#c4c4c4"}, {"offset": 0.93, "color": "#fff"}, {"offset": 0.94, "color": "#c4c4c4"}, {"offset": 0.95, "color": "#fff"}, {"offset": 0.96, "color": "#c4c4c4"}, {"offset": 0.97, "color": "#fff"}, {"offset": 0.98, "color": "#c4c4c4"}, {"offset": 0.99, "color": "#fff"}, {"offset": 1, "color": "#c4c4c4"}]}},
           "encoding": {
             "x": {"datum": 0.000655, "type": "quantitative", "scale": {"type": "log", "domain": [0.000655, 44.6], "nice": false}, "axis": {"values": [0.001, 0.01, 0.1, 1, 10], "tickCount": 12, "title": "Concentration (µM)", "labelExpr": "toString(datum.value)", "labelOverlap": false}},
             "x2": {"datum": 44.6},
             "y": {"field": "lo", "type": "quantitative", "scale": {"domain": [-102.1, 199.7], "nice": false, "zero": false}, "axis": {"values": [-100, -50, 0, 50, 100, 150], "tickCount": 12, "title": "Percent Activity", "labelExpr": "toString(datum.value)", "labelOverlap": false, "offset": 0}},
             "y2": {"field": "hi"}}},
          {"data": {"name": "B_lim"}, "mark": {"type": "rule", "color": "#bdbdbd", "strokeWidth": 1.5},
           "encoding": {"x": {"datum": 0.000655}, "x2": {"datum": 44.6}, "y": {"field": "coff", "type": "quantitative"}}},
          {"data": {"name": "B_fit"}, "transform": [{"filter": "datum.model == 'hill'"}], "mark": {"type": "line", "color": "#CD4F39", "strokeWidth": 3, "interpolate": "monotone"},
           "encoding": {"x": {"field": "conc", "type": "quantitative"}, "y": {"field": "resp", "type": "quantitative"}}},
          {"data": {"name": "B_fit"}, "transform": [{"filter": "datum.model == 'gnls'"}], "mark": {"type": "line", "color": "#1E90FF", "strokeWidth": 3, "strokeDash": [8, 5], "interpolate": "monotone"},
           "encoding": {"x": {"field": "conc", "type": "quantitative"}, "y": {"field": "resp", "type": "quantitative"}}},
          {"data": {"name": "B_fit"}, "transform": [{"filter": "datum.model == 'cnst'"}], "mark": {"type": "line", "color": "#FF8C00", "strokeWidth": 3, "strokeDash": [10, 7]},
           "encoding": {"x": {"field": "conc", "type": "quantitative"}, "y": {"field": "resp", "type": "quantitative"}}},
          {"data": {"name": "B_ac50"}, "transform": [{"filter": "datum.model == 'hill'"}], "mark": {"type": "rule", "color": "#CD4F39", "strokeWidth": 2, "clip": true},
           "encoding": {"x": {"field": "conc", "type": "quantitative"}, "y": {"datum": -102.1}, "y2": {"datum": 190.2}}},
          {"data": {"name": "B_ac50"}, "transform": [{"filter": "datum.model == 'gnls'"}], "mark": {"type": "rule", "color": "#1E90FF", "strokeWidth": 2, "strokeDash": [6, 4], "clip": true},
           "encoding": {"x": {"field": "conc", "type": "quantitative"}, "y": {"datum": -102.1}, "y2": {"datum": 190.2}}},
          {"data": {"values": [{}]}, "mark": {"type": "rule", "color": "#4d4d4d", "strokeWidth": 2},
           "encoding": {"x": {"datum": 0.000655}, "y": {"datum": -100}, "y2": {"datum": 150}}},
          {"data": {"values": [{}]}, "mark": {"type": "rule", "color": "#4d4d4d", "strokeWidth": 2},
           "encoding": {"x": {"datum": 0.001}, "x2": {"datum": 10}, "y": {"datum": -102.1}}},
          {"data": {"name": "B_pts"}, "mark": {"type": "point"},
           "encoding": {"x": {"field": "conc", "type": "quantitative"}, "y": {"field": "resp", "type": "quantitative"}}}
        ]},
        {"data": {"name": "B_txt"}, "mark": {"type": "text"},
         "encoding": {
           "x": {"field": "col", "type": "quantitative", "scale": {"domain": [-51.43, -16.32], "nice": false, "zero": false}, "axis": null},
           "y": {"field": "line", "type": "quantitative", "scale": {"domain": [2.343, 20.37], "reverse": true, "nice": false, "zero": false}, "axis": null},
           "text": {"field": "text"},
           "color": {"condition": {"test": "datum.hill", "value": "#f02020"}, "value": "#1a1a1a"}}}
      ]
    },
    {
      "width": 196, "height": 188,
      "title": {"text": "CCTE_Mundy_HCI_CDI_NOG_NeuriteLength_loss", "offset": 24.8, "dx": 1.8},
      "resolve": {"scale": {"x": "independent", "y": "independent"}},
      "layer": [
        {"layer": [
          {"data": {"name": "C_lim"},
           "mark": {"type": "rect", "fill": {"gradient": "linear", "x1": 0, "y1": 0, "x2": 1.147, "y2": 0.2145, "stops": [{"offset": 0, "color": "#c4c4c4"}, {"offset": 0.01, "color": "#fff"}, {"offset": 0.02, "color": "#c4c4c4"}, {"offset": 0.03, "color": "#fff"}, {"offset": 0.04, "color": "#c4c4c4"}, {"offset": 0.05, "color": "#fff"}, {"offset": 0.06, "color": "#c4c4c4"}, {"offset": 0.07, "color": "#fff"}, {"offset": 0.08, "color": "#c4c4c4"}, {"offset": 0.09, "color": "#fff"}, {"offset": 0.1, "color": "#c4c4c4"}, {"offset": 0.11, "color": "#fff"}, {"offset": 0.12, "color": "#c4c4c4"}, {"offset": 0.13, "color": "#fff"}, {"offset": 0.14, "color": "#c4c4c4"}, {"offset": 0.15, "color": "#fff"}, {"offset": 0.16, "color": "#c4c4c4"}, {"offset": 0.17, "color": "#fff"}, {"offset": 0.18, "color": "#c4c4c4"}, {"offset": 0.19, "color": "#fff"}, {"offset": 0.2, "color": "#c4c4c4"}, {"offset": 0.21, "color": "#fff"}, {"offset": 0.22, "color": "#c4c4c4"}, {"offset": 0.23, "color": "#fff"}, {"offset": 0.24, "color": "#c4c4c4"}, {"offset": 0.25, "color": "#fff"}, {"offset": 0.26, "color": "#c4c4c4"}, {"offset": 0.27, "color": "#fff"}, {"offset": 0.28, "color": "#c4c4c4"}, {"offset": 0.29, "color": "#fff"}, {"offset": 0.3, "color": "#c4c4c4"}, {"offset": 0.31, "color": "#fff"}, {"offset": 0.32, "color": "#c4c4c4"}, {"offset": 0.33, "color": "#fff"}, {"offset": 0.34, "color": "#c4c4c4"}, {"offset": 0.35, "color": "#fff"}, {"offset": 0.36, "color": "#c4c4c4"}, {"offset": 0.37, "color": "#fff"}, {"offset": 0.38, "color": "#c4c4c4"}, {"offset": 0.39, "color": "#fff"}, {"offset": 0.4, "color": "#c4c4c4"}, {"offset": 0.41, "color": "#fff"}, {"offset": 0.42, "color": "#c4c4c4"}, {"offset": 0.43, "color": "#fff"}, {"offset": 0.44, "color": "#c4c4c4"}, {"offset": 0.45, "color": "#fff"}, {"offset": 0.46, "color": "#c4c4c4"}, {"offset": 0.47, "color": "#fff"}, {"offset": 0.48, "color": "#c4c4c4"}, {"offset": 0.49, "color": "#fff"}, {"offset": 0.5, "color": "#c4c4c4"}, {"offset": 0.51, "color": "#fff"}, {"offset": 0.52, "color": "#c4c4c4"}, {"offset": 0.53, "color": "#fff"}, {"offset": 0.54, "color": "#c4c4c4"}, {"offset": 0.55, "color": "#fff"}, {"offset": 0.56, "color": "#c4c4c4"}, {"offset": 0.57, "color": "#fff"}, {"offset": 0.58, "color": "#c4c4c4"}, {"offset": 0.59, "color": "#fff"}, {"offset": 0.6, "color": "#c4c4c4"}, {"offset": 0.61, "color": "#fff"}, {"offset": 0.62, "color": "#c4c4c4"}, {"offset": 0.63, "color": "#fff"}, {"offset": 0.64, "color": "#c4c4c4"}, {"offset": 0.65, "color": "#fff"}, {"offset": 0.66, "color": "#c4c4c4"}, {"offset": 0.67, "color": "#fff"}, {"offset": 0.68, "color": "#c4c4c4"}, {"offset": 0.69, "color": "#fff"}, {"offset": 0.7, "color": "#c4c4c4"}, {"offset": 0.71, "color": "#fff"}, {"offset": 0.72, "color": "#c4c4c4"}, {"offset": 0.73, "color": "#fff"}, {"offset": 0.74, "color": "#c4c4c4"}, {"offset": 0.75, "color": "#fff"}, {"offset": 0.76, "color": "#c4c4c4"}, {"offset": 0.77, "color": "#fff"}, {"offset": 0.78, "color": "#c4c4c4"}, {"offset": 0.79, "color": "#fff"}, {"offset": 0.8, "color": "#c4c4c4"}, {"offset": 0.81, "color": "#fff"}, {"offset": 0.82, "color": "#c4c4c4"}, {"offset": 0.83, "color": "#fff"}, {"offset": 0.84, "color": "#c4c4c4"}, {"offset": 0.85, "color": "#fff"}, {"offset": 0.86, "color": "#c4c4c4"}, {"offset": 0.87, "color": "#fff"}, {"offset": 0.88, "color": "#c4c4c4"}, {"offset": 0.89, "color": "#fff"}, {"offset": 0.9, "color": "#c4c4c4"}, {"offset": 0.91, "color": "#fff"}, {"offset": 0.92, "color": "#c4c4c4"}, {"offset": 0.93, "color": "#fff"}, {"offset": 0.94, "color": "#c4c4c4"}, {"offset": 0.95, "color": "#fff"}, {"offset": 0.96, "color": "#c4c4c4"}, {"offset": 0.97, "color": "#fff"}, {"offset": 0.98, "color": "#c4c4c4"}, {"offset": 0.99, "color": "#fff"}, {"offset": 1, "color": "#c4c4c4"}]}},
           "encoding": {
             "x": {"datum": 0.000646, "type": "quantitative", "scale": {"type": "log", "domain": [0.000376, 48.5], "nice": false}, "axis": {"values": [0.001, 0.01, 0.1, 1, 10], "tickCount": 12, "title": "Concentration (µM)", "labelExpr": "toString(datum.value)", "labelOverlap": false}},
             "x2": {"datum": 48.5},
             "y": {"field": "lo", "type": "quantitative", "scale": {"domain": [-102, 193.5], "nice": false, "zero": false}, "axis": {"values": [-100, -50, 0, 50, 100, 150], "tickCount": 12, "title": "Percent Activity", "labelExpr": "toString(datum.value)", "labelOverlap": false, "offset": -9}},
             "y2": {"field": "hi"}}},
          {"data": {"name": "C_lim"}, "mark": {"type": "rule", "color": "#bdbdbd", "strokeWidth": 1.5},
           "encoding": {"x": {"datum": 0.000646}, "x2": {"datum": 48.5}, "y": {"field": "coff", "type": "quantitative"}}},
          {"data": {"name": "C_fit"}, "transform": [{"filter": "datum.model == 'hill'"}], "mark": {"type": "line", "color": "#CD4F39", "strokeWidth": 3, "interpolate": "monotone"},
           "encoding": {"x": {"field": "conc", "type": "quantitative"}, "y": {"field": "resp", "type": "quantitative"}}},
          {"data": {"name": "C_fit"}, "transform": [{"filter": "datum.model == 'gnls'"}], "mark": {"type": "line", "color": "#1E90FF", "strokeWidth": 3, "strokeDash": [8, 5], "interpolate": "monotone"},
           "encoding": {"x": {"field": "conc", "type": "quantitative"}, "y": {"field": "resp", "type": "quantitative"}}},
          {"data": {"name": "C_fit"}, "transform": [{"filter": "datum.model == 'cnst'"}], "mark": {"type": "line", "color": "#FF8C00", "strokeWidth": 3, "strokeDash": [10, 7]},
           "encoding": {"x": {"field": "conc", "type": "quantitative"}, "y": {"field": "resp", "type": "quantitative"}}},
          {"data": {"name": "C_ac50"}, "transform": [{"filter": "datum.model == 'hill'"}], "mark": {"type": "rule", "color": "#CD4F39", "strokeWidth": 2, "clip": true},
           "encoding": {"x": {"field": "conc", "type": "quantitative"}, "y": {"datum": -102}, "y2": {"datum": 190.4}}},
          {"data": {"name": "C_ac50"}, "transform": [{"filter": "datum.model == 'gnls'"}], "mark": {"type": "rule", "color": "#1E90FF", "strokeWidth": 2, "strokeDash": [6, 4], "clip": true},
           "encoding": {"x": {"field": "conc", "type": "quantitative"}, "y": {"datum": -102}, "y2": {"datum": 190.4}}},
          {"data": {"values": [{}]}, "mark": {"type": "rule", "color": "#4d4d4d", "strokeWidth": 2},
           "encoding": {"x": {"datum": 0.000646}, "y": {"datum": -100}, "y2": {"datum": 150}}},
          {"data": {"values": [{}]}, "mark": {"type": "rule", "color": "#4d4d4d", "strokeWidth": 2},
           "encoding": {"x": {"datum": 0.001}, "x2": {"datum": 10}, "y": {"datum": -102}}},
          {"data": {"name": "C_pts"}, "mark": {"type": "point"},
           "encoding": {"x": {"field": "conc", "type": "quantitative"}, "y": {"field": "resp", "type": "quantitative"}}}
        ]},
        {"data": {"name": "C_txt"}, "mark": {"type": "text"},
         "encoding": {
           "x": {"field": "col", "type": "quantitative", "scale": {"domain": [-53.28, -16.16], "nice": false, "zero": false}, "axis": null},
           "y": {"field": "line", "type": "quantitative", "scale": {"domain": [2.675, 20.445], "reverse": true, "nice": false, "zero": false}, "axis": null},
           "text": {"field": "text"},
           "color": {"condition": {"test": "datum.hill", "value": "#f02020"}, "value": "#1a1a1a"}}}
      ]
    },
    {
      "width": 198, "height": 186,
      "title": {"text": "CCTE_Mundy_HCI_CDI_NOG_NeuriteLength_loss", "offset": 24.8, "dx": 2.3},
      "resolve": {"scale": {"x": "independent", "y": "independent"}},
      "layer": [
        {"layer": [
          {"data": {"name": "D_lim"},
           "mark": {"type": "rect", "fill": {"gradient": "linear", "x1": 0, "y1": 0, "x2": 1.147, "y2": 0.2145, "stops": [{"offset": 0, "color": "#c4c4c4"}, {"offset": 0.01, "color": "#fff"}, {"offset": 0.02, "color": "#c4c4c4"}, {"offset": 0.03, "color": "#fff"}, {"offset": 0.04, "color": "#c4c4c4"}, {"offset": 0.05, "color": "#fff"}, {"offset": 0.06, "color": "#c4c4c4"}, {"offset": 0.07, "color": "#fff"}, {"offset": 0.08, "color": "#c4c4c4"}, {"offset": 0.09, "color": "#fff"}, {"offset": 0.1, "color": "#c4c4c4"}, {"offset": 0.11, "color": "#fff"}, {"offset": 0.12, "color": "#c4c4c4"}, {"offset": 0.13, "color": "#fff"}, {"offset": 0.14, "color": "#c4c4c4"}, {"offset": 0.15, "color": "#fff"}, {"offset": 0.16, "color": "#c4c4c4"}, {"offset": 0.17, "color": "#fff"}, {"offset": 0.18, "color": "#c4c4c4"}, {"offset": 0.19, "color": "#fff"}, {"offset": 0.2, "color": "#c4c4c4"}, {"offset": 0.21, "color": "#fff"}, {"offset": 0.22, "color": "#c4c4c4"}, {"offset": 0.23, "color": "#fff"}, {"offset": 0.24, "color": "#c4c4c4"}, {"offset": 0.25, "color": "#fff"}, {"offset": 0.26, "color": "#c4c4c4"}, {"offset": 0.27, "color": "#fff"}, {"offset": 0.28, "color": "#c4c4c4"}, {"offset": 0.29, "color": "#fff"}, {"offset": 0.3, "color": "#c4c4c4"}, {"offset": 0.31, "color": "#fff"}, {"offset": 0.32, "color": "#c4c4c4"}, {"offset": 0.33, "color": "#fff"}, {"offset": 0.34, "color": "#c4c4c4"}, {"offset": 0.35, "color": "#fff"}, {"offset": 0.36, "color": "#c4c4c4"}, {"offset": 0.37, "color": "#fff"}, {"offset": 0.38, "color": "#c4c4c4"}, {"offset": 0.39, "color": "#fff"}, {"offset": 0.4, "color": "#c4c4c4"}, {"offset": 0.41, "color": "#fff"}, {"offset": 0.42, "color": "#c4c4c4"}, {"offset": 0.43, "color": "#fff"}, {"offset": 0.44, "color": "#c4c4c4"}, {"offset": 0.45, "color": "#fff"}, {"offset": 0.46, "color": "#c4c4c4"}, {"offset": 0.47, "color": "#fff"}, {"offset": 0.48, "color": "#c4c4c4"}, {"offset": 0.49, "color": "#fff"}, {"offset": 0.5, "color": "#c4c4c4"}, {"offset": 0.51, "color": "#fff"}, {"offset": 0.52, "color": "#c4c4c4"}, {"offset": 0.53, "color": "#fff"}, {"offset": 0.54, "color": "#c4c4c4"}, {"offset": 0.55, "color": "#fff"}, {"offset": 0.56, "color": "#c4c4c4"}, {"offset": 0.57, "color": "#fff"}, {"offset": 0.58, "color": "#c4c4c4"}, {"offset": 0.59, "color": "#fff"}, {"offset": 0.6, "color": "#c4c4c4"}, {"offset": 0.61, "color": "#fff"}, {"offset": 0.62, "color": "#c4c4c4"}, {"offset": 0.63, "color": "#fff"}, {"offset": 0.64, "color": "#c4c4c4"}, {"offset": 0.65, "color": "#fff"}, {"offset": 0.66, "color": "#c4c4c4"}, {"offset": 0.67, "color": "#fff"}, {"offset": 0.68, "color": "#c4c4c4"}, {"offset": 0.69, "color": "#fff"}, {"offset": 0.7, "color": "#c4c4c4"}, {"offset": 0.71, "color": "#fff"}, {"offset": 0.72, "color": "#c4c4c4"}, {"offset": 0.73, "color": "#fff"}, {"offset": 0.74, "color": "#c4c4c4"}, {"offset": 0.75, "color": "#fff"}, {"offset": 0.76, "color": "#c4c4c4"}, {"offset": 0.77, "color": "#fff"}, {"offset": 0.78, "color": "#c4c4c4"}, {"offset": 0.79, "color": "#fff"}, {"offset": 0.8, "color": "#c4c4c4"}, {"offset": 0.81, "color": "#fff"}, {"offset": 0.82, "color": "#c4c4c4"}, {"offset": 0.83, "color": "#fff"}, {"offset": 0.84, "color": "#c4c4c4"}, {"offset": 0.85, "color": "#fff"}, {"offset": 0.86, "color": "#c4c4c4"}, {"offset": 0.87, "color": "#fff"}, {"offset": 0.88, "color": "#c4c4c4"}, {"offset": 0.89, "color": "#fff"}, {"offset": 0.9, "color": "#c4c4c4"}, {"offset": 0.91, "color": "#fff"}, {"offset": 0.92, "color": "#c4c4c4"}, {"offset": 0.93, "color": "#fff"}, {"offset": 0.94, "color": "#c4c4c4"}, {"offset": 0.95, "color": "#fff"}, {"offset": 0.96, "color": "#c4c4c4"}, {"offset": 0.97, "color": "#fff"}, {"offset": 0.98, "color": "#c4c4c4"}, {"offset": 0.99, "color": "#fff"}, {"offset": 1, "color": "#c4c4c4"}]}},
           "encoding": {
             "x": {"datum": 0.000686, "type": "quantitative", "scale": {"type": "log", "domain": [0.000333, 48.5], "nice": false}, "axis": {"values": [0.001, 0.01, 0.1, 1, 10], "tickCount": 12, "title": "Concentration (µM)", "labelExpr": "toString(datum.value)", "labelOverlap": false}},
             "x2": {"datum": 48.5},
             "y": {"field": "lo", "type": "quantitative", "scale": {"domain": [-102.7, 191.1], "nice": false, "zero": false}, "axis": {"values": [-100, -50, 0, 50, 100, 150], "tickCount": 12, "title": "Percent Activity", "labelExpr": "toString(datum.value)", "labelOverlap": false, "offset": -12}},
             "y2": {"field": "hi"}}},
          {"data": {"name": "D_lim"}, "mark": {"type": "rule", "color": "#bdbdbd", "strokeWidth": 1.5},
           "encoding": {"x": {"datum": 0.000686}, "x2": {"datum": 48.5}, "y": {"field": "coff", "type": "quantitative"}}},
          {"data": {"name": "D_fit"}, "transform": [{"filter": "datum.model == 'hill'"}], "mark": {"type": "line", "color": "#CD4F39", "strokeWidth": 3, "interpolate": "monotone"},
           "encoding": {"x": {"field": "conc", "type": "quantitative"}, "y": {"field": "resp", "type": "quantitative"}}},
          {"data": {"name": "D_fit"}, "transform": [{"filter": "datum.model == 'gnls'"}], "mark": {"type": "line", "color": "#1E90FF", "strokeWidth": 3, "strokeDash": [8, 5], "interpolate": "monotone"},
           "encoding": {"x": {"field": "conc", "type": "quantitative"}, "y": {"field": "resp", "type": "quantitative"}}},
          {"data": {"name": "D_fit"}, "transform": [{"filter": "datum.model == 'cnst'"}], "mark": {"type": "line", "color": "#FF8C00", "strokeWidth": 3, "strokeDash": [10, 7]},
           "encoding": {"x": {"field": "conc", "type": "quantitative"}, "y": {"field": "resp", "type": "quantitative"}}},
          {"data": {"name": "D_ac50"}, "transform": [{"filter": "datum.model == 'hill'"}], "mark": {"type": "rule", "color": "#CD4F39", "strokeWidth": 2, "clip": true},
           "encoding": {"x": {"field": "conc", "type": "quantitative"}, "y": {"datum": -102.7}, "y2": {"datum": 191.1}}},
          {"data": {"name": "D_ac50"}, "transform": [{"filter": "datum.model == 'gnls'"}], "mark": {"type": "rule", "color": "#1E90FF", "strokeWidth": 2, "strokeDash": [6, 4], "clip": true},
           "encoding": {"x": {"field": "conc", "type": "quantitative"}, "y": {"datum": -102.7}, "y2": {"datum": 191.1}}},
          {"data": {"values": [{}]}, "mark": {"type": "rule", "color": "#4d4d4d", "strokeWidth": 2},
           "encoding": {"x": {"datum": 0.000686}, "y": {"datum": -100}, "y2": {"datum": 150}}},
          {"data": {"values": [{}]}, "mark": {"type": "rule", "color": "#4d4d4d", "strokeWidth": 2},
           "encoding": {"x": {"datum": 0.001}, "x2": {"datum": 10}, "y": {"datum": -102.7}}},
          {"data": {"name": "D_pts"}, "mark": {"type": "point"},
           "encoding": {"x": {"field": "conc", "type": "quantitative"}, "y": {"field": "resp", "type": "quantitative"}}}
        ]},
        {"data": {"name": "D_txt"}, "mark": {"type": "text"},
         "encoding": {
           "x": {"field": "col", "type": "quantitative", "scale": {"domain": [-53.52, -16.02], "nice": false, "zero": false}, "axis": null},
           "y": {"field": "line", "type": "quantitative", "scale": {"domain": [2.836, 20.416], "reverse": true, "nice": false, "zero": false}, "axis": null},
           "text": {"field": "text"},
           "color": {"condition": {"test": "datum.hill", "value": "#f02020"}, "value": "#1a1a1a"}}}
      ]
    },
    {
      "width": 200, "height": 194,
      "title": {"text": "CCTE_Mundy_HCI_CDI_NOG_NeuronCount_loss", "offset": 24.8, "dx": 2.8},
      "resolve": {"scale": {"x": "independent", "y": "independent"}},
      "layer": [
        {"layer": [
          {"data": {"name": "E_lim"},
           "mark": {"type": "rect", "fill": {"gradient": "linear", "x1": 0, "y1": 0, "x2": 1.147, "y2": 0.2145, "stops": [{"offset": 0, "color": "#c4c4c4"}, {"offset": 0.01, "color": "#fff"}, {"offset": 0.02, "color": "#c4c4c4"}, {"offset": 0.03, "color": "#fff"}, {"offset": 0.04, "color": "#c4c4c4"}, {"offset": 0.05, "color": "#fff"}, {"offset": 0.06, "color": "#c4c4c4"}, {"offset": 0.07, "color": "#fff"}, {"offset": 0.08, "color": "#c4c4c4"}, {"offset": 0.09, "color": "#fff"}, {"offset": 0.1, "color": "#c4c4c4"}, {"offset": 0.11, "color": "#fff"}, {"offset": 0.12, "color": "#c4c4c4"}, {"offset": 0.13, "color": "#fff"}, {"offset": 0.14, "color": "#c4c4c4"}, {"offset": 0.15, "color": "#fff"}, {"offset": 0.16, "color": "#c4c4c4"}, {"offset": 0.17, "color": "#fff"}, {"offset": 0.18, "color": "#c4c4c4"}, {"offset": 0.19, "color": "#fff"}, {"offset": 0.2, "color": "#c4c4c4"}, {"offset": 0.21, "color": "#fff"}, {"offset": 0.22, "color": "#c4c4c4"}, {"offset": 0.23, "color": "#fff"}, {"offset": 0.24, "color": "#c4c4c4"}, {"offset": 0.25, "color": "#fff"}, {"offset": 0.26, "color": "#c4c4c4"}, {"offset": 0.27, "color": "#fff"}, {"offset": 0.28, "color": "#c4c4c4"}, {"offset": 0.29, "color": "#fff"}, {"offset": 0.3, "color": "#c4c4c4"}, {"offset": 0.31, "color": "#fff"}, {"offset": 0.32, "color": "#c4c4c4"}, {"offset": 0.33, "color": "#fff"}, {"offset": 0.34, "color": "#c4c4c4"}, {"offset": 0.35, "color": "#fff"}, {"offset": 0.36, "color": "#c4c4c4"}, {"offset": 0.37, "color": "#fff"}, {"offset": 0.38, "color": "#c4c4c4"}, {"offset": 0.39, "color": "#fff"}, {"offset": 0.4, "color": "#c4c4c4"}, {"offset": 0.41, "color": "#fff"}, {"offset": 0.42, "color": "#c4c4c4"}, {"offset": 0.43, "color": "#fff"}, {"offset": 0.44, "color": "#c4c4c4"}, {"offset": 0.45, "color": "#fff"}, {"offset": 0.46, "color": "#c4c4c4"}, {"offset": 0.47, "color": "#fff"}, {"offset": 0.48, "color": "#c4c4c4"}, {"offset": 0.49, "color": "#fff"}, {"offset": 0.5, "color": "#c4c4c4"}, {"offset": 0.51, "color": "#fff"}, {"offset": 0.52, "color": "#c4c4c4"}, {"offset": 0.53, "color": "#fff"}, {"offset": 0.54, "color": "#c4c4c4"}, {"offset": 0.55, "color": "#fff"}, {"offset": 0.56, "color": "#c4c4c4"}, {"offset": 0.57, "color": "#fff"}, {"offset": 0.58, "color": "#c4c4c4"}, {"offset": 0.59, "color": "#fff"}, {"offset": 0.6, "color": "#c4c4c4"}, {"offset": 0.61, "color": "#fff"}, {"offset": 0.62, "color": "#c4c4c4"}, {"offset": 0.63, "color": "#fff"}, {"offset": 0.64, "color": "#c4c4c4"}, {"offset": 0.65, "color": "#fff"}, {"offset": 0.66, "color": "#c4c4c4"}, {"offset": 0.67, "color": "#fff"}, {"offset": 0.68, "color": "#c4c4c4"}, {"offset": 0.69, "color": "#fff"}, {"offset": 0.7, "color": "#c4c4c4"}, {"offset": 0.71, "color": "#fff"}, {"offset": 0.72, "color": "#c4c4c4"}, {"offset": 0.73, "color": "#fff"}, {"offset": 0.74, "color": "#c4c4c4"}, {"offset": 0.75, "color": "#fff"}, {"offset": 0.76, "color": "#c4c4c4"}, {"offset": 0.77, "color": "#fff"}, {"offset": 0.78, "color": "#c4c4c4"}, {"offset": 0.79, "color": "#fff"}, {"offset": 0.8, "color": "#c4c4c4"}, {"offset": 0.81, "color": "#fff"}, {"offset": 0.82, "color": "#c4c4c4"}, {"offset": 0.83, "color": "#fff"}, {"offset": 0.84, "color": "#c4c4c4"}, {"offset": 0.85, "color": "#fff"}, {"offset": 0.86, "color": "#c4c4c4"}, {"offset": 0.87, "color": "#fff"}, {"offset": 0.88, "color": "#c4c4c4"}, {"offset": 0.89, "color": "#fff"}, {"offset": 0.9, "color": "#c4c4c4"}, {"offset": 0.91, "color": "#fff"}, {"offset": 0.92, "color": "#c4c4c4"}, {"offset": 0.93, "color": "#fff"}, {"offset": 0.94, "color": "#c4c4c4"}, {"offset": 0.95, "color": "#fff"}, {"offset": 0.96, "color": "#c4c4c4"}, {"offset": 0.97, "color": "#fff"}, {"offset": 0.98, "color": "#c4c4c4"}, {"offset": 0.99, "color": "#fff"}, {"offset": 1, "color": "#c4c4c4"}]}},
           "encoding": {
             "x": {"datum": 0.000176, "type": "quantitative", "scale": {"type": "log", "domain": [0.0000853, 15.3], "nice": false}, "axis": {"values": [0.001, 0.01, 0.1, 1, 10], "tickCount": 12, "title": "Concentration (µM)", "labelExpr": "toString(datum.value)", "labelOverlap": false}},
             "x2": {"datum": 15.3},
             "y": {"field": "lo", "type": "quantitative", "scale": {"domain": [-91.3, 178.2], "nice": false, "zero": false}, "axis": {"values": [-50, 0, 50, 100, 150], "tickCount": 12, "title": "Percent Activity", "labelExpr": "toString(datum.value)", "labelOverlap": false, "offset": -12}},
             "y2": {"field": "hi"}}},
          {"data": {"name": "E_lim"}, "mark": {"type": "rule", "color": "#bdbdbd", "strokeWidth": 1.5},
           "encoding": {"x": {"datum": 0.000176}, "x2": {"datum": 15.3}, "y": {"field": "coff", "type": "quantitative"}}},
          {"data": {"name": "E_fit"}, "transform": [{"filter": "datum.model == 'hill'"}], "mark": {"type": "line", "color": "#CD4F39", "strokeWidth": 3, "interpolate": "monotone"},
           "encoding": {"x": {"field": "conc", "type": "quantitative"}, "y": {"field": "resp", "type": "quantitative"}}},
          {"data": {"name": "E_fit"}, "transform": [{"filter": "datum.model == 'gnls'"}], "mark": {"type": "line", "color": "#1E90FF", "strokeWidth": 3, "strokeDash": [8, 5], "interpolate": "monotone"},
           "encoding": {"x": {"field": "conc", "type": "quantitative"}, "y": {"field": "resp", "type": "quantitative"}}},
          {"data": {"name": "E_fit"}, "transform": [{"filter": "datum.model == 'cnst'"}], "mark": {"type": "line", "color": "#FF8C00", "strokeWidth": 3, "strokeDash": [10, 7]},
           "encoding": {"x": {"field": "conc", "type": "quantitative"}, "y": {"field": "resp", "type": "quantitative"}}},
          {"data": {"name": "E_ac50"}, "transform": [{"filter": "datum.model == 'hill'"}], "mark": {"type": "rule", "color": "#CD4F39", "strokeWidth": 2, "clip": true},
           "encoding": {"x": {"field": "conc", "type": "quantitative"}, "y": {"datum": -91.3}, "y2": {"datum": 169.9}}},
          {"data": {"name": "E_ac50"}, "transform": [{"filter": "datum.model == 'gnls'"}], "mark": {"type": "rule", "color": "#1E90FF", "strokeWidth": 2, "strokeDash": [6, 4], "clip": true},
           "encoding": {"x": {"field": "conc", "type": "quantitative"}, "y": {"datum": -91.3}, "y2": {"datum": 169.9}}},
          {"data": {"values": [{}]}, "mark": {"type": "rule", "color": "#4d4d4d", "strokeWidth": 2},
           "encoding": {"x": {"datum": 0.000176}, "y": {"datum": -50}, "y2": {"datum": 150}}},
          {"data": {"values": [{}]}, "mark": {"type": "rule", "color": "#4d4d4d", "strokeWidth": 2},
           "encoding": {"x": {"datum": 0.001}, "x2": {"datum": 10}, "y": {"datum": -91.3}}},
          {"data": {"name": "E_pts"}, "mark": {"type": "point"},
           "encoding": {"x": {"field": "conc", "type": "quantitative"}, "y": {"field": "resp", "type": "quantitative"}}}
        ]},
        {"data": {"name": "E_txt"}, "mark": {"type": "text"},
         "encoding": {
           "x": {"field": "col", "type": "quantitative", "scale": {"domain": [-54.37, -16.35], "nice": false, "zero": false}, "axis": null},
           "y": {"field": "line", "type": "quantitative", "scale": {"domain": [2.354, 20.62], "reverse": true, "nice": false, "zero": false}, "axis": null},
           "text": {"field": "text"},
           "color": {"condition": {"test": "datum.hill", "value": "#f02020"}, "value": "#1a1a1a"}}}
      ]
    }
  ]
}
